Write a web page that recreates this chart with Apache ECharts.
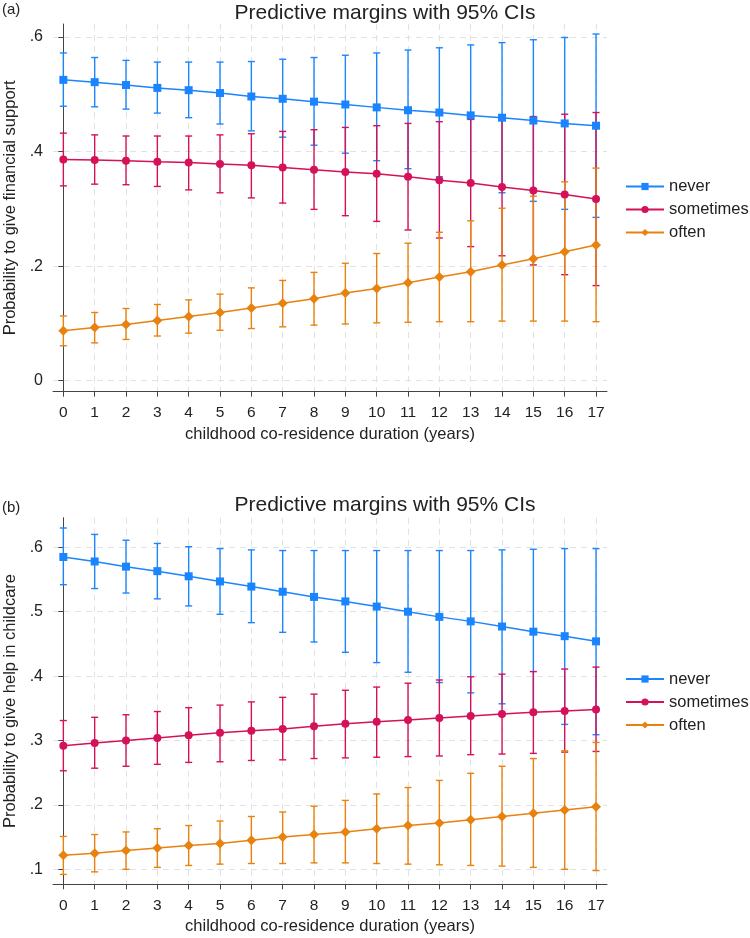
<!DOCTYPE html>
<html>
<head>
<meta charset="utf-8">
<script src="https://cdn.jsdelivr.net/npm/echarts@6/dist/echarts.min.js"></script>
<style>
  html, body { margin: 0; padding: 0; background: #fff; }
  #main { width: 750px; height: 938px; }
</style>
</head>
<body>
<div id="main"></div>
<script>
var years = [0, 1, 2, 3, 4, 5, 6, 7, 8, 9, 10, 11, 12, 13, 14, 15, 16, 17];
var groups = ['never', 'sometimes', 'often'];
var colors = ['#1a85ff', '#d41159', '#e8820e'];
var symbols = ['rect', 'circle', 'diamond'];
var symbolSizes = [8, 8, 10];

var finTicks = [0, 0.2, 0.4, 0.6];
var careTicks = [0.1, 0.2, 0.3, 0.4, 0.5, 0.6];

// (a) financial support
var finNever = [0.525, 0.521, 0.516, 0.511, 0.507, 0.502, 0.496, 0.492, 0.487, 0.482, 0.477, 0.472, 0.468, 0.463, 0.459, 0.454, 0.449, 0.445];
var finNeverHi = [0.572, 0.564, 0.559, 0.556, 0.556, 0.556, 0.557, 0.561, 0.564, 0.568, 0.572, 0.577, 0.581, 0.586, 0.590, 0.595, 0.599, 0.605];
var finNeverLo = [0.479, 0.478, 0.474, 0.467, 0.459, 0.448, 0.436, 0.425, 0.411, 0.397, 0.384, 0.370, 0.356, 0.342, 0.328, 0.313, 0.299, 0.285];

var finSometimes = [0.386, 0.385, 0.384, 0.382, 0.381, 0.378, 0.376, 0.372, 0.368, 0.364, 0.361, 0.356, 0.350, 0.345, 0.338, 0.332, 0.325, 0.317];
var finSometimesHi = [0.432, 0.429, 0.427, 0.427, 0.427, 0.429, 0.431, 0.435, 0.438, 0.442, 0.445, 0.449, 0.452, 0.456, 0.460, 0.461, 0.465, 0.468];
var finSometimesLo = [0.340, 0.343, 0.342, 0.339, 0.333, 0.328, 0.319, 0.310, 0.299, 0.288, 0.278, 0.263, 0.249, 0.234, 0.218, 0.202, 0.185, 0.166];

var finOften = [0.087, 0.093, 0.098, 0.105, 0.112, 0.119, 0.127, 0.135, 0.143, 0.153, 0.161, 0.171, 0.181, 0.190, 0.202, 0.213, 0.225, 0.237];
var finOftenHi = [0.113, 0.119, 0.126, 0.133, 0.141, 0.151, 0.162, 0.175, 0.189, 0.205, 0.222, 0.240, 0.259, 0.279, 0.301, 0.322, 0.347, 0.371];
var finOftenLo = [0.061, 0.066, 0.072, 0.078, 0.083, 0.088, 0.091, 0.094, 0.097, 0.099, 0.101, 0.102, 0.103, 0.103, 0.104, 0.104, 0.104, 0.103];

// (b) help in childcare
var careNever = [0.585, 0.578, 0.570, 0.563, 0.555, 0.547, 0.539, 0.531, 0.523, 0.516, 0.508, 0.500, 0.492, 0.485, 0.477, 0.469, 0.462, 0.454];
var careNeverHi = [0.630, 0.620, 0.611, 0.606, 0.601, 0.598, 0.596, 0.595, 0.595, 0.595, 0.595, 0.595, 0.595, 0.595, 0.596, 0.597, 0.598, 0.598];
var careNeverLo = [0.542, 0.536, 0.529, 0.520, 0.509, 0.496, 0.483, 0.468, 0.453, 0.437, 0.421, 0.406, 0.390, 0.374, 0.357, 0.341, 0.325, 0.309];

var careSometimes = [0.292, 0.296, 0.300, 0.304, 0.308, 0.312, 0.315, 0.318, 0.322, 0.326, 0.329, 0.332, 0.335, 0.338, 0.341, 0.344, 0.346, 0.348];
var careSometimesHi = [0.331, 0.336, 0.340, 0.345, 0.351, 0.355, 0.360, 0.367, 0.372, 0.378, 0.383, 0.389, 0.394, 0.399, 0.403, 0.407, 0.411, 0.414];
var careSometimesLo = [0.253, 0.257, 0.260, 0.263, 0.266, 0.267, 0.269, 0.270, 0.272, 0.273, 0.274, 0.275, 0.276, 0.278, 0.279, 0.280, 0.282, 0.283];

var careOften = [0.122, 0.125, 0.129, 0.133, 0.137, 0.140, 0.145, 0.150, 0.154, 0.158, 0.163, 0.168, 0.172, 0.177, 0.182, 0.187, 0.192, 0.197];
var careOftenHi = [0.151, 0.154, 0.158, 0.163, 0.168, 0.175, 0.182, 0.189, 0.198, 0.207, 0.217, 0.227, 0.238, 0.249, 0.260, 0.272, 0.284, 0.297];
var careOftenLo = [0.092, 0.096, 0.100, 0.103, 0.106, 0.108, 0.109, 0.109, 0.110, 0.110, 0.109, 0.108, 0.107, 0.106, 0.105, 0.103, 0.100, 0.098];

var FONT = 'Liberation Sans, Arial, sans-serif';

function stataLabel(v) {
  if (v === 0) return '0';
  return (+v.toFixed(2)).toString().replace(/^0\./, '.');
}

function ciRender(color) {
  return function (params, api) {
    var x = api.value(0);
    var lo = api.coord([x, api.value(1)]);
    var hi = api.coord([x, api.value(2)]);
    var w = 3.5;
    var st = { stroke: color, lineWidth: 1.4 };
    return {
      type: 'group',
      children: [
        { type: 'line', shape: { x1: lo[0], y1: lo[1], x2: hi[0], y2: hi[1] }, style: st },
        { type: 'line', shape: { x1: lo[0] - w, y1: lo[1], x2: lo[0] + w, y2: lo[1] }, style: st },
        { type: 'line', shape: { x1: hi[0] - w, y1: hi[1], x2: hi[0] + w, y2: hi[1] }, style: st }
      ]
    };
  };
}

function xAxisFor(gridIndex) {
  return {
    type: 'value', gridIndex: gridIndex, min: -0.33, max: 17.35,
    name: 'childhood co-residence duration (years)',
    nameLocation: 'middle', nameGap: 34,
    nameTextStyle: { fontFamily: FONT, fontSize: 16.5, color: '#222' },
    axisLine: { onZero: false, lineStyle: { color: '#444', width: 1 } },
    axisTick: { show: true, length: 5, customValues: years, lineStyle: { color: '#444' } },
    axisLabel: { customValues: years, fontFamily: FONT, fontSize: 15.5, color: '#222', margin: 13 },
    splitLine: { show: true, lineStyle: { color: '#e2e2e2', type: [6, 5], width: 1 } }
  };
}

function yAxisFor(gridIndex, min, max, ticks, name) {
  return {
    type: 'value', gridIndex: gridIndex, min: min, max: max,
    name: name, nameLocation: 'middle', nameGap: 32, nameRotate: 90,
    nameTextStyle: { fontFamily: FONT, fontSize: 16.5, color: '#222' },
    axisLine: { show: true, lineStyle: { color: '#444', width: 1 } },
    axisTick: { show: true, length: 5, customValues: ticks, lineStyle: { color: '#444' } },
    axisLabel: { customValues: ticks, formatter: stataLabel, fontFamily: FONT, fontSize: 16, color: '#222', margin: 10 },
    splitLine: { show: true, lineStyle: { color: '#e2e2e2', type: [6, 5], width: 1 } }
  };
}

var panels = [
  { mean: [finNever, finSometimes, finOften], hi: [finNeverHi, finSometimesHi, finOftenHi], lo: [finNeverLo, finSometimesLo, finOftenLo] },
  { mean: [careNever, careSometimes, careOften], hi: [careNeverHi, careSometimesHi, careOftenHi], lo: [careNeverLo, careSometimesLo, careOftenLo] }
];

var series = [];
panels.forEach(function (p, gi) {
  groups.forEach(function (g, k) {
    series.push({
      type: 'custom', name: g + ' CI', xAxisIndex: gi, yAxisIndex: gi,
      renderItem: ciRender(colors[k]), encode: { x: 0, y: [1, 2] }, z: 2,
      silent: true,
      data: years.map(function (yr, i) { return [yr, p.lo[k][i], p.hi[k][i]]; })
    });
  });
  groups.forEach(function (g, k) {
    series.push({
      type: 'line', name: g, xAxisIndex: gi, yAxisIndex: gi, z: 3,
      symbol: symbols[k], symbolSize: symbolSizes[k], showAllSymbol: true,
      itemStyle: { color: colors[k] }, lineStyle: { color: colors[k], width: 1.5 },
      animation: false,
      data: years.map(function (yr, i) { return [yr, p.mean[k][i]]; })
    });
  });
});

var legendBase = {
  orient: 'vertical', left: 620, itemWidth: 38, itemHeight: 9, itemGap: 6,
  textStyle: { fontFamily: FONT, fontSize: 16.5, color: '#222' },
  data: groups
};

var chart = echarts.init(document.getElementById('main'), null, { renderer: 'canvas' });
chart.setOption({
  animation: false,
  backgroundColor: '#fff',
  title: [
    { text: 'Predictive margins with 95% CIs', left: 380, textAlign: 'center', top: -2,
      textStyle: { fontFamily: FONT, fontSize: 21, fontWeight: 'normal', color: '#222' } },
    { text: 'Predictive margins with 95% CIs', left: 380, textAlign: 'center', top: 490,
      textStyle: { fontFamily: FONT, fontSize: 21, fontWeight: 'normal', color: '#222' } }
  ],
  graphic: [
    { type: 'text', left: 2, top: 2, style: { text: '(a)', font: '15px ' + FONT, fill: '#222' } },
    { type: 'text', left: 2, top: 500, style: { text: '(b)', font: '15px ' + FONT, fill: '#222' } }
  ],
  legend: [
    Object.assign({}, legendBase, { top: 173 }),
    Object.assign({}, legendBase, { top: 665.5 })
  ],
  grid: [
    { left: 53, right: 143, top: 24, height: 367.7, containLabel: false, outerBoundsMode: 'none' },
    { left: 53, right: 143, top: 517.7, height: 366.6, containLabel: false, outerBoundsMode: 'none' }
  ],
  xAxis: [xAxisFor(0), xAxisFor(1)],
  yAxis: [
    yAxisFor(0, -0.0192, 0.6225, finTicks, 'Probability to give financial support'),
    yAxisFor(1, 0.0767, 0.646, careTicks, 'Probability to give help in childcare')
  ],
  series: series
});
</script>
</body>
</html>
